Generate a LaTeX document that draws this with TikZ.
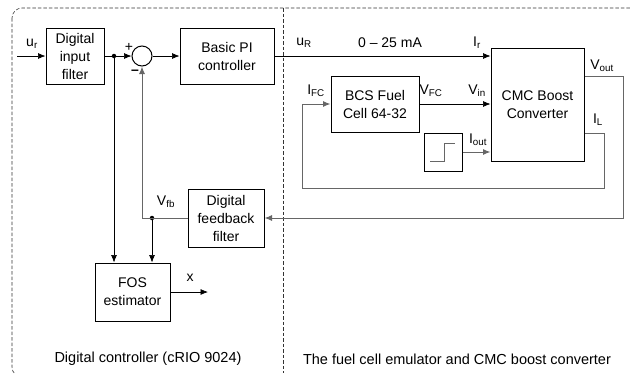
\documentclass[tikz,border=0pt]{standalone}
\usepackage{fontspec}
\setmainfont{Liberation Sans}
\usetikzlibrary{arrows.meta}
\begin{document}
\begin{tikzpicture}[x=1pt,y=-1pt,
  font=\fontsize{14}{18}\selectfont,
  blk/.style={draw,line width=1pt,align=center,inner sep=1pt},
  arr/.style={-{Latex[length=7.5pt,width=6pt]}},
  conn/.style={line width=0.7pt},
  gconn/.style={line width=1pt,black!60},
  frame/.style={dash pattern=on 3.5pt off 2pt,line width=0.6pt,black!80},
  lbl/.style={inner sep=0pt},
  title/.style={inner sep=0pt,font=\fontsize{14.5}{18}\selectfont},
  dot/.style={circle,fill,inner sep=0pt,minimum size=4.5pt}]
\useasboundingbox (0,0) rectangle (631,373);
% frames
\draw[frame,rounded corners=10pt] (12,8) rectangle (640,377);
\draw[frame] (283,8) -- (283,373);
% blocks
\node[blk,minimum width=58pt,minimum height=56pt] (dif) at (75,56) {Digital\\input\\filter};
\node[draw,line width=1pt,circle,minimum size=20pt,inner sep=0pt] (sum) at (142,56) {};
\node[blk,minimum width=94pt,minimum height=56pt] (pi) at (227,56) {Basic PI\\controller};
\node[blk,minimum width=93pt,minimum height=113pt] (cmc) at (537.5,104.5) {CMC Boost\\Converter};
\node[blk,minimum width=88pt,minimum height=56pt] (bcs) at (375,104) {BCS Fuel\\Cell 64-32};
\node[blk,minimum width=38pt,minimum height=38pt] (stp) at (443,152) {};
\node[blk,minimum width=76pt,minimum height=58pt] (dff) at (226,218) {Digital\\feedback\\filter};
\node[blk,minimum width=75pt,minimum height=58pt] (fos) at (132.5,292) {FOS\\estimator};
% step symbol
\draw[gconn] ([shift={(-13,9)}]stp.center) -- ([shift={(1,9)}]stp.center) -- ([shift={(1,-9)}]stp.center) -- ([shift={(12,-9)}]stp.center);
% coordinates
\coordinate (in) at (17,56);
\node[dot] (j1) at (114,56) {};
\node[dot] (j2) at (152,218) {};
\coordinate (xo) at (208,292);
\coordinate (vo1) at (623,76);
\coordinate (vo2) at (623,218);
\coordinate (il1) at (604,133);
\coordinate (il2) at (604,188);
\coordinate (il3) at (302,188);
% connectors
\draw[conn,arr] (in) -- (dif.west);
\draw[conn] (dif.east) -- (j1);
\draw[conn,arr] (j1) -- (sum.west);
\draw[conn,arr] (sum.east) -- (pi.west);
\draw[conn,arr] (pi.east) -- (pi.east -| cmc.west);
\draw[conn,arr] (bcs.east) -- (bcs.east -| cmc.west);
\draw[gconn,arr] (stp.east) -- (stp.east -| cmc.west);
\draw[gconn,arr] (cmc.east |- vo1) -- (vo1) -- (vo2) -- (dff.east);
\draw[gconn,arr] (cmc.east |- il1) -- (il1) -- (il2) -- (il3) |- (bcs.west);
\draw[gconn,arr] (dff.west) -| (sum.south);
\draw[conn,arr] (j1) -- (j1 |- fos.north);
\draw[conn,arr] (j2) -- (j2 |- fos.north);
\draw[conn,arr] (fos.east) -- (xo);
% labels
\node[lbl] (lur) at (32,44) {u\textsubscript{r}};
\node[lbl] (lp) at (129,47) {+};
\node[lbl] (lm) at (135,72) {\textbf{--}};
\node[lbl] (luR) at (304,43) {u\textsubscript{R}};
\node[lbl] (lma) at (390,43) {0 -- 25 mA};
\node[lbl] (lir) at (477,43) {I\textsubscript{r}};
\node[lbl] (lvout) at (602,66) {V\textsubscript{out}};
\node[lbl] (lifc) at (316,91) {I\textsubscript{FC}};
\node[lbl] (lvfc) at (431,91) {V\textsubscript{FC}};
\node[lbl] (lvin) at (477,91) {V\textsubscript{in}};
\node[lbl] (lil) at (598,120) {I\textsubscript{L}};
\node[lbl] (liout) at (478,140) {I\textsubscript{out}};
\node[lbl] (lvfb) at (166,202) {V\textsubscript{fb}};
\node[lbl] (lx) at (190,278) {x};
\node[title] (t1) at (148,359) {Digital controller (cRIO 9024)};
\node[title] (t2) at (457,359) {The fuel cell emulator and CMC boost converter};
\end{tikzpicture}
\end{document}
